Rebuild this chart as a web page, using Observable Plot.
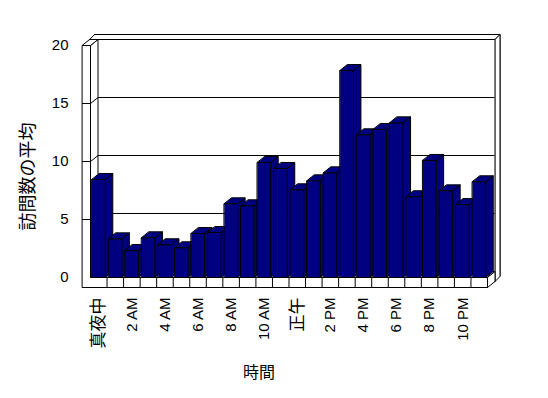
<!DOCTYPE html>
<html><head><meta charset="utf-8">
<script src="https://cdn.jsdelivr.net/npm/d3@7"></script>
<script src="https://cdn.jsdelivr.net/npm/@observablehq/plot@0.6"></script>
<style>html,body{margin:0;padding:0;background:#fff} svg{display:block}</style>
</head><body><div id="chart"></div>
<script>
// ---- data ----
const categories = ["真夜中","1 AM","2 AM","3 AM","4 AM","5 AM","6 AM","7 AM","8 AM","9 AM","10 AM","11 AM",
                    "正午","1 PM","2 PM","3 PM","4 PM","5 PM","6 PM","7 PM","8 PM","9 PM","10 PM","11 PM"];
const visits = [8.45, 3.33, 2.33, 3.42, 2.82, 2.56, 3.79, 3.88, 6.35, 6.18, 9.91, 9.4,
                7.56, 8.33, 9.02, 17.84, 12.3, 12.76, 13.33, 6.96, 10.09, 7.47, 6.29, 8.25];
const yTicks = [0, 5, 10, 15, 20];
const yTitle = "訪問数の平均";
const xTitle = "時間";

// ---- layout ----
const W = 548, H = 398, mL = 90, mR = 61, mT = 45, mB = 121;
const n = categories.length, yMax = 20;
const ux = n / (W - mL - mR), uy = yMax / (H - mT - mB);   // data units per pixel
const dX = 7.5 * ux, dY = 6 * uy;    // depth of the 3D box
const tX = 5 * ux, tY = 5 * uy;      // back wall thickness
const lw = 8 * ux, fl = 10 * uy;     // left wall / floor thickness
const barA = 0.09, barB = 0.895;

let pid = 0;
function poly(arr, pts) { const id = pid++; for (const [x, y] of pts) arr.push({id, x, y}); }
function rect(arr, x1, x2, y1, y2) { poly(arr, [[x1,y1],[x2,y1],[x2,y2],[x1,y2]]); }

// walls (back to front)
const walls = [];
rect(walls, -lw + dX + tX, n + dX + tX, -fl + dY + tY, yMax + dY + tY);
poly(walls, [[-lw + dX, yMax + dY], [n + dX, yMax + dY], [n + dX + tX, yMax + dY + tY], [-lw + dX + tX, yMax + dY + tY]]);
poly(walls, [[n + dX, yMax + dY], [n + dX + tX, yMax + dY + tY], [n + dX + tX, -fl + dY + tY], [n + dX, -fl + dY]]);
rect(walls, -lw + dX, n + dX, -fl + dY, yMax + dY);
poly(walls, [[0, 0], [0, yMax], [dX, yMax + dY], [dX, dY]]);
poly(walls, [[-lw, yMax], [0, yMax], [dX, yMax + dY], [-lw + dX, yMax + dY]]);
poly(walls, [[0, 0], [n, 0], [n + dX, dY], [dX, dY]]);
poly(walls, [[n, 0], [n + dX, dY], [n + dX, dY - fl], [n, -fl]]);

// bars
const bars = [];
visits.forEach((v, i) => {
  const x1 = i + barA, x2 = i + barB;
  poly(bars, [[x2, 0], [x2 + dX, dY], [x2 + dX, v + dY], [x2, v]]);
  poly(bars, [[x1, v], [x2, v], [x2 + dX, v + dY], [x1 + dX, v + dY]]);
  rect(bars, x1, x2, 0, v);
});

// front L (left wall face + floor face)
const front = [];
poly(front, [[-lw, yMax], [0, yMax], [0, 0], [n, 0], [n, -fl], [-lw, -fl]]);

const xLabels = categories.map((c, i) => ({label: c, x: i + 0.5})).filter((d, i) => i % 2 === 0);
const isLatin = s => /^[0-9A-Za-z ]+$/.test(s);

const font = "'Liberation Sans', 'Noto Sans CJK JP', sans-serif";

const chart = Plot.plot({
  width: W, height: H,
  marginLeft: mL, marginRight: mR, marginTop: mT, marginBottom: mB,
  style: {fontFamily: font, background: "#fff", color: "#000"},
  x: {domain: [0, n], axis: null},
  y: {domain: [0, yMax], axis: null},
  marks: [
    Plot.line(walls, {x: "x", y: "y", z: "id", fill: "white", stroke: "black", strokeWidth: 1, curve: "linear-closed"}),
    Plot.ruleY(yTicks, {x1: dX, x2: n + dX, y: d => d + dY, stroke: "black", strokeWidth: 1}),
    Plot.link(yTicks.filter(d => d > 0 && d < yMax), {x1: 0, y1: d => d, x2: dX, y2: d => d + dY, stroke: "black", strokeWidth: 1}),
    Plot.line(bars, {x: "x", y: "y", z: "id", fill: "#000080", stroke: "black", strokeWidth: 1, curve: "linear-closed"}),
    Plot.line(front, {x: "x", y: "y", z: "id", fill: "white", stroke: "black", strokeWidth: 1, curve: "linear-closed"}),
    Plot.ruleX(d3.range(1, n), {y1: 0, y2: -fl, stroke: "black", strokeWidth: 1}),
    Plot.ruleY(yTicks.filter(d => d > 0 && d < yMax), {x1: -lw, x2: 0, stroke: "black", strokeWidth: 1}),
    Plot.text(yTicks, {y: d => d, text: d => String(d), frameAnchor: "left", textAnchor: "end", dx: -22, fontSize: 15, fill: "black"}),
    Plot.text(xLabels, {x: "x", text: "label", frameAnchor: "bottom", rotate: -90, textAnchor: "end", lineAnchor: "middle", dy: 20,
                        fontSize: d => isLatin(d.label) ? 15 : 17, fill: "black"}),
    Plot.text([xTitle], {text: d => d, frameAnchor: "bottom", dx: -30, dy: 100, fontSize: 16, fill: "black"}),
    Plot.text([yTitle], {text: d => d, frameAnchor: "left", textAnchor: "middle", lineAnchor: "middle", rotate: -90, dx: -62, dy: 15, fontSize: 18, fill: "black"})
  ]
});
document.getElementById("chart").appendChild(chart);
</script>
</body></html>
